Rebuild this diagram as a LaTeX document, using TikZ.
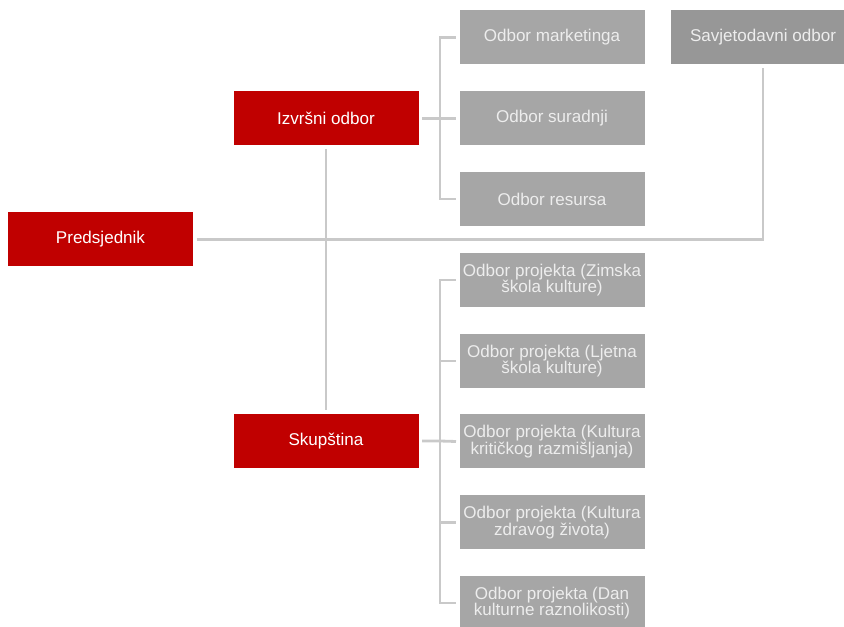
\documentclass[tikz,border=0pt]{standalone}
\usepackage{fontspec}
\setmainfont{Liberation Sans}
\definecolor{redbox}{HTML}{C00000}
\definecolor{greybox}{HTML}{A6A6A6}
\definecolor{darkbox}{HTML}{979797}
\definecolor{linegrey}{HTML}{C9C9C9}
\begin{document}
\begin{tikzpicture}[
  box/.style={minimum width=3.7cm, minimum height=1.08cm, inner sep=0pt, outer sep=0.07cm,
    align=center, text=white, font=\fontsize{9.7}{9.4}\selectfont},
  redb/.style={box, fill=redbox},
  greyb/.style={box, fill=greybox, text=white!93!black},
  conn/.style={draw=linegrey, line width=1.6pt}]
% \draw [help lines] (0,0) grid (17,-13) ;
\useasboundingbox (0,0) rectangle (16.88,-12.54);
\node[redb] (pred) at (2.01,-4.79) {Predsjednik};
\node[redb] (izv) at (6.52,-2.37) {Izvršni odbor};
\node[redb] (sku) at (6.52,-8.82) {Skupština};
\node[greyb] (mark) at (11.04,-0.75) {Odbor marketinga};
\node[greyb] (sur) at (11.04,-2.37) {Odbor suradnji};
\node[greyb] (res) at (11.04,-3.98) {Odbor resursa};
\node[greyb, fill=darkbox] (sav) at (15.26,-0.75) {Savjetodavni odbor};
\node[greyb] (zim) at (11.04,-5.6) {Odbor projekta (Zimska\\ škola kulture)};
\node[greyb] (ljet) at (11.04,-7.22) {Odbor projekta (Ljetna\\ škola kulture)};
\node[greyb] (krit) at (11.04,-8.83) {Odbor projekta (Kultura\\ kritičkog razmišljanja)};
\node[greyb] (zdr) at (11.04,-10.45) {Odbor projekta (Kultura\\ zdravog života)};
\node[greyb] (dan) at (11.04,-12.06) {Odbor projekta (Dan\\ kulturne raznolikosti)};
% lines
\draw[conn] (izv.south) -- (sku.north);
\draw[conn] (pred.east) -| (sav.south);
\draw[conn] (izv.east) -- ++(0.36,0) coordinate (uj) -- (sur.west);
\draw[conn] (uj) |- (mark.west);
\draw[conn] (uj) |- (res.west);
\draw[conn] (sku.east) -- ++(0.36,0) coordinate (lj) -- (krit.west);
\draw[conn] (lj) |- (zim.west);
\draw[conn] (lj) |- (ljet.west);
\draw[conn] (lj) |- (zdr.west);
\draw[conn] (lj) |- (dan.west);
\end{tikzpicture}
\end{document}
